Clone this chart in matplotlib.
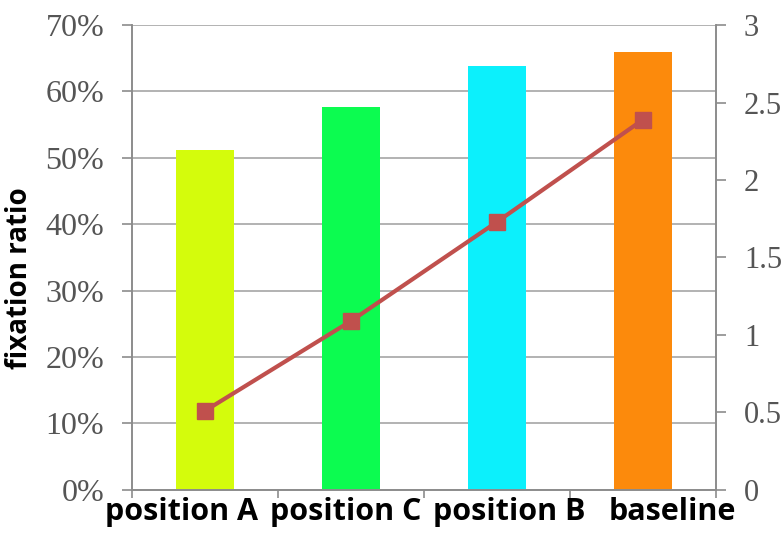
import matplotlib
matplotlib.use("Agg")
import matplotlib.pyplot as plt
from matplotlib.ticker import FixedLocator, PercentFormatter

categories = ["position A", "position C", "position B", "baseline"]
ratio = [51.2, 57.7, 63.8, 65.9]          # fixation ratio, %
line_vals = [0.51, 1.09, 1.73, 2.39]     # right axis
bar_colors = ["#d4fc0c", "#0cfc50", "#0cf0fc", "#fc8a0c"]

fig = plt.figure(figsize=(7.81, 5.33), dpi=100)
ax = fig.add_axes([0.169, 0.081, 0.748, 0.872])
ax2 = ax.twinx()

x = list(range(len(categories)))
ax.bar(x, ratio, width=0.4, color=bar_colors, zorder=2)
ax.set_ylim(0, 70)
ax.set_xlim(-0.5, 3.5)
ax.set_yticks(range(0, 71, 10))
ax.yaxis.set_major_formatter(PercentFormatter(decimals=0))
ax.grid(axis="y", color="#a6a6a6", linewidth=1.2, zorder=0)
ax.set_axisbelow(True)

ax2.plot(x, line_vals, color="#c0504d", linewidth=3, marker="s",
         markersize=11, zorder=3)
ax2.set_ylim(0, 3)
ax2.set_yticks([0, 0.5, 1, 1.5, 2, 2.5, 3])
ax2.set_yticklabels(["0", "0.5", "1", "1.5", "2", "2.5", "3"])

# category labels sit a bit spread out in the original
label_pos = [i * 1.12 - 0.16 for i in x]
ax.set_xticks(label_pos)
ax.set_xticklabels(categories, fontfamily="Open Sans", fontweight="bold",
                   fontsize=22, color="black")
ax.xaxis.set_minor_locator(FixedLocator([-0.5, 0.5, 1.5, 2.5, 3.5]))
ax.tick_params(axis="x", which="major", length=0, pad=5)
ax.tick_params(axis="x", which="minor", length=6, color="#8c8c8c", width=1.2)

for a in (ax, ax2):
    a.spines["top"].set_visible(False)
    for s in ("left", "right", "bottom"):
        a.spines[s].set_color("#8c8c8c")
        a.spines[s].set_linewidth(1.2)

ax.tick_params(axis="y", length=7, color="#8c8c8c", width=1.2, pad=13,
               labelsize=23, labelcolor="#555555")
ax2.tick_params(axis="y", length=7, color="#8c8c8c", width=1.2, pad=13,
                labelsize=22, labelcolor="#555555")
for lab in ax.get_yticklabels() + ax2.get_yticklabels():
    lab.set_fontfamily("Liberation Serif")

ax.set_ylabel("fixation ratio", fontfamily="Open Sans", fontweight="bold",
              fontsize=20)
ax.yaxis.set_label_coords(-0.168, 0.456)

fig.savefig("out.png", dpi=100)
